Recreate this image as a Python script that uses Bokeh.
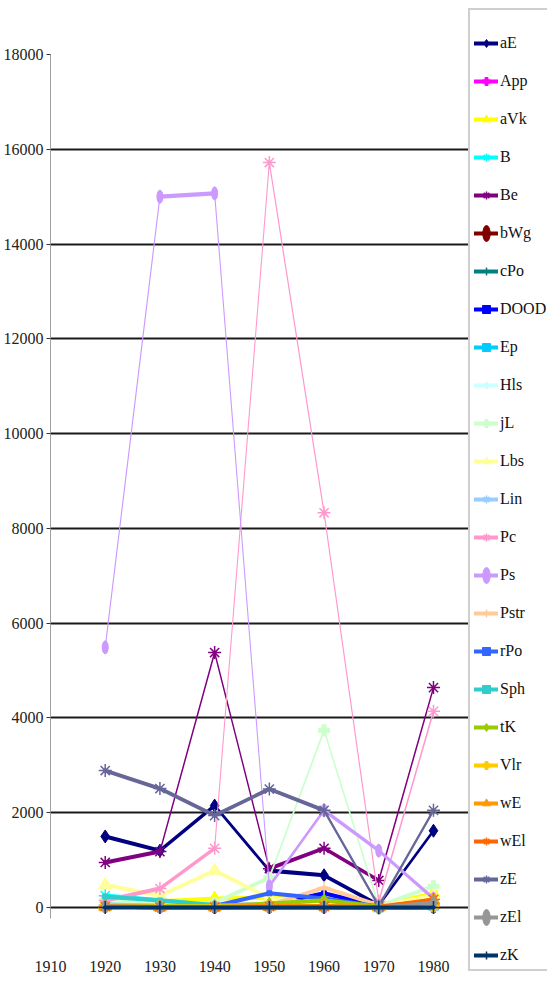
import math
from bokeh.plotting import figure
from bokeh.models import Range1d, FixedTicker, Legend, LegendItem
from bokeh.embed import file_html
from bokeh.resources import INLINE

years = [1920, 1930, 1940, 1950, 1960, 1970, 1980]

aE = [1500, 1200, 2150, 780, 680, 50, 1620]
App = [20, 10, 10, 10, 10, 0, 10]
aVk = [60, 130, 190, 210, 240, 20, 300]
B = [250, 150, 40, 30, 30, 0, 30]
Be = [950, 1180, 5380, 820, 1250, 570, 4640]
bWg = [30, 20, 10, 20, 20, 0, 20]
cPo = [20, 10, 10, 10, 10, 0, 10]
DOOD = [100, 100, 50, 60, 300, 20, 30]
Ep = [150, 100, 40, 30, 30, 0, 30]
Hls = [40, 20, 20, 20, 20, 0, 20]
jL = [150, 80, 100, 630, 3740, 30, 450]
Lbs = [480, 250, 780, 200, 60, 30, 250]
Lin = [60, 40, 30, 30, 30, 0, 30]
Pc = [150, 400, 1250, 15720, 8330, 130, 4140]
Ps = [5490, 15000, 15070, 450, 2050, 1200, 190]
Pstr = [50, 30, 30, 50, 420, 50, 100]
rPo = [30, 30, 30, 300, 190, 20, 20]
Sph = [230, 150, 50, 30, 20, 0, 20]
tK = [40, 30, 30, 80, 150, 20, 50]
Vlr = [30, 20, 20, 30, 30, 0, 30]
wE = [20, 10, 10, 20, 30, 10, 150]
wEl = [20, 10, 10, 20, 20, 10, 170]
zE = [2890, 2510, 1940, 2500, 2050, 30, 2050]
zEl = [20, 10, 10, 10, 10, 0, 100]
zK = [0, 0, 0, 0, 0, 0, 0]

y_ticks = [0, 2000, 4000, 6000, 8000, 10000, 12000, 14000, 16000, 18000]
x_ticks = [1910, 1920, 1930, 1940, 1950, 1960, 1970, 1980]

series = [
    ("aE", aE, "#000080", "diamond"),
    ("App", App, "#FF00FF", "plus"),
    ("aVk", aVk, "#FFFF00", "triangle"),
    ("B", B, "#00FFFF", "asterisk"),
    ("Be", Be, "#800080", "asterisk"),
    ("bWg", bWg, "#800000", "circle"),
    ("cPo", cPo, "#008080", "cross"),
    ("DOOD", DOOD, "#0000FF", "square"),
    ("Ep", Ep, "#00CCFF", "square"),
    ("Hls", Hls, "#CCFFFF", "diamond"),
    ("jL", jL, "#CCFFCC", "plus"),
    ("Lbs", Lbs, "#FFFF99", "triangle"),
    ("Lin", Lin, "#99CCFF", "asterisk"),
    ("Pc", Pc, "#FF99CC", "asterisk"),
    ("Ps", Ps, "#CC99FF", "circle"),
    ("Pstr", Pstr, "#FFCC99", "cross"),
    ("rPo", rPo, "#3366FF", "square"),
    ("Sph", Sph, "#33CCCC", "square"),
    ("tK", tK, "#99CC00", "diamond"),
    ("Vlr", Vlr, "#FFCC00", "plus"),
    ("wE", wE, "#FF9900", "triangle"),
    ("wEl", wEl, "#FF6600", "asterisk"),
    ("zE", zE, "#666699", "asterisk"),
    ("zEl", zEl, "#969696", "circle"),
    ("zK", zK, "#003366", "cross"),
]

FONT = "Liberation Sans Narrow"
X0, X1 = 1910, 1986.4
Y0, Y1 = -232, 18000
FW, FH = 418, 864
PX_X = FW / (X1 - X0)
PX_Y = FH / (Y1 - Y0)
W_H = 4.2      # pen width for horizontal segments
SQUEEZE = 0.25  # horizontal squeeze of the original drawing

def seg_width(xa, ya, xb, yb):
    dx = (xb - xa) * PX_X
    dy = (yb - ya) * PX_Y
    L = math.hypot(dx, dy)
    if L == 0:
        return W_H
    return W_H * math.sqrt(dx * dx + (SQUEEZE * dy) ** 2) / L

p = figure(frame_width=FW, frame_height=FH,
           x_range=Range1d(X0, X1), y_range=Range1d(Y0, Y1),
           output_backend="svg", toolbar_location=None,
           min_border_left=42, min_border_top=54, min_border_bottom=64,
           min_border_right=0)
p.outline_line_color = None
p.background_fill_color = "white"
p.border_fill_color = "white"

p.yaxis.ticker = FixedTicker(ticks=y_ticks)
p.yaxis.axis_line_color = "#A0A0A0"
p.yaxis.major_tick_line_color = "#333333"
p.yaxis.major_tick_in = 0
p.yaxis.major_tick_out = 4
p.yaxis.minor_tick_line_color = None
p.yaxis.major_label_standoff = 3
p.yaxis.major_label_text_font = FONT
p.yaxis.major_label_text_font_size = "16px"
p.yaxis.major_label_text_color = "#222222"

p.xaxis.ticker = FixedTicker(ticks=x_ticks)
p.xaxis.axis_line_color = None
p.xaxis.major_tick_line_color = None
p.xaxis.minor_tick_line_color = None
p.xaxis.major_label_standoff = 36
p.xaxis.major_label_text_font = FONT
p.xaxis.major_label_text_font_size = "16px"
p.xaxis.major_label_text_color = "#222222"

p.xgrid.grid_line_color = None
p.ygrid.ticker = FixedTicker(ticks=y_ticks[:-1])
p.ygrid.grid_line_color = "#1a1a1a"
p.ygrid.grid_line_width = 2

items = []
for name, vals, color, marker in series:
    xs0 = [years[0]] + years[:-1]
    ys0 = [vals[0]] + vals[:-1]
    xs1 = [years[0]] + years[1:]
    ys1 = [vals[0]] + vals[1:]
    widths = [seg_width(a, b, c, d) for a, b, c, d in zip(xs0, ys0, xs1, ys1)]
    r1 = p.segment(x0=xs0, y0=ys0, x1=xs1, y1=ys1, line_color=color,
                   line_width=widths, line_cap="round")
    if marker in ("asterisk", "cross"):
        r2 = p.scatter(years, vals, marker=marker, size=13, line_color=color,
                       fill_color=color, line_width=1.5)
    elif marker == "plus":
        r2 = p.scatter(years, vals, marker=marker, size=11, line_color=color,
                       fill_color=color)
    elif marker == "square":
        r2 = p.scatter(years, vals, marker=marker, size=5, line_color=color,
                       fill_color=color)
    elif marker == "circle":
        r2 = p.ellipse(years, vals, width=6, height=13, width_units="screen",
                       height_units="screen", line_color=color, fill_color=color)
    else:
        r2 = p.scatter(years, vals, marker=marker, size=13, line_color=color,
                       fill_color=color)
    items.append(LegendItem(label=name, renderers=[r1, r2], index=0))

legend = Legend(items=items, location=(0, -53))
legend.title = " "
legend.title_text_font_size = "12px"
legend.title_standoff = 5
legend.label_text_font = FONT
legend.label_text_font_size = "16px"
legend.label_text_color = "#111111"
legend.glyph_width = 24
legend.glyph_height = 20
legend.label_height = 20
legend.label_standoff = 2
legend.spacing = 18
legend.padding = 4
legend.margin = 0
legend.border_line_color = "#A0A0A0"
legend.border_line_width = 2
legend.background_fill_color = "white"
p.add_layout(legend, "right")

open("out.html", "w").write(file_html(p, INLINE))
